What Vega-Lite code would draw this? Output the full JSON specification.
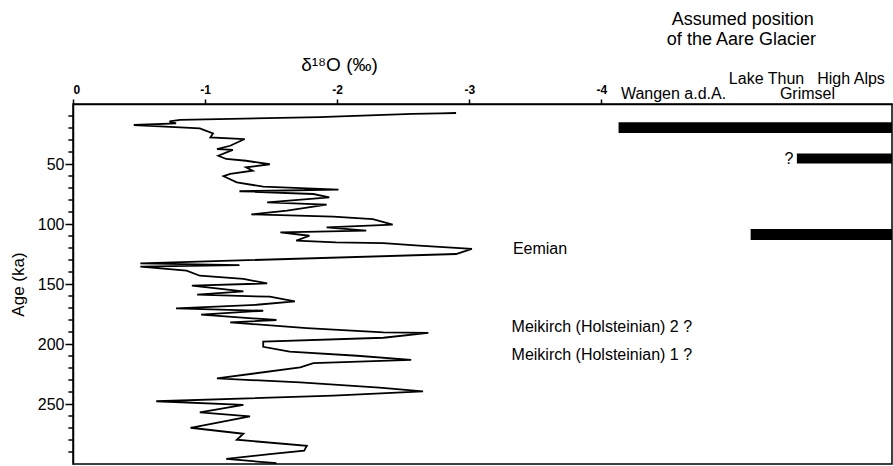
{
  "$schema": "https://vega.github.io/schema/vega-lite/v6.json",
  "autosize": "none",
  "width": 819,
  "height": 360,
  "padding": {"left": 73, "top": 104, "right": 1, "bottom": 2},
  "background": "white",
  "config": {
    "font": "Liberation Sans",
    "view": {"stroke": "black", "strokeWidth": 1.5},
    "axis": {"domainColor": "black", "tickColor": "black", "labelColor": "black", "titleColor": "black", "grid": false, "domainWidth": 1.5, "tickWidth": 1.5}
  },
  "datasets": {
    "curve": [
      {"v": -2.90, "age": 7.5}, {"v": -2.78, "age": 7.8}, {"v": -2.57, "age": 8.2}, {"v": -1.97, "age": 10.6}, {"v": -1.87, "age": 10.9},
      {"v": -0.81, "age": 13.3}, {"v": -0.73, "age": 14.5}, {"v": -0.78, "age": 16.2}, {"v": -0.46, "age": 17.5}, {"v": -0.66, "age": 18.7},
      {"v": -0.96, "age": 20.3}, {"v": -1.06, "age": 24.5}, {"v": -1.04, "age": 27.8}, {"v": -1.30, "age": 29.2}, {"v": -1.19, "age": 34.8},
      {"v": -1.09, "age": 37.5}, {"v": -1.21, "age": 38.3}, {"v": -1.10, "age": 43.1}, {"v": -1.16, "age": 45.8}, {"v": -1.31, "age": 47.3},
      {"v": -1.49, "age": 50.2}, {"v": -1.31, "age": 52.8}, {"v": -1.36, "age": 55.6}, {"v": -1.19, "age": 58.3}, {"v": -1.14, "age": 60.2},
      {"v": -1.24, "age": 65.3}, {"v": -1.44, "age": 68.9}, {"v": -2.01, "age": 71.4}, {"v": -1.26, "age": 72.7}, {"v": -1.82, "age": 75.0},
      {"v": -1.94, "age": 77.8}, {"v": -1.47, "age": 82.0}, {"v": -1.92, "age": 83.9}, {"v": -1.62, "age": 88.9}, {"v": -1.35, "age": 92.0},
      {"v": -1.97, "age": 93.9}, {"v": -2.27, "age": 96.0}, {"v": -2.42, "age": 100.6}, {"v": -1.92, "age": 102.8}, {"v": -2.22, "age": 105.6},
      {"v": -1.57, "age": 107.0}, {"v": -1.79, "age": 109.8}, {"v": -1.69, "age": 113.9}, {"v": -1.99, "age": 115.3}, {"v": -2.35, "age": 116.0},
      {"v": -2.62, "age": 118.1}, {"v": -3.02, "age": 120.8}, {"v": -2.90, "age": 125.0}, {"v": -0.51, "age": 132.8}, {"v": -1.26, "age": 134.2},
      {"v": -0.51, "age": 135.6}, {"v": -0.86, "age": 138.9}, {"v": -0.96, "age": 143.1}, {"v": -1.29, "age": 145.8}, {"v": -1.47, "age": 149.5},
      {"v": -0.90, "age": 151.4}, {"v": -1.29, "age": 156.2}, {"v": -0.94, "age": 158.9}, {"v": -1.49, "age": 160.6}, {"v": -1.68, "age": 164.5},
      {"v": -1.39, "age": 167.3}, {"v": -0.78, "age": 170.3}, {"v": -1.44, "age": 172.3}, {"v": -0.97, "age": 175.6}, {"v": -1.54, "age": 180.0},
      {"v": -1.19, "age": 182.0}, {"v": -1.77, "age": 186.8}, {"v": -2.35, "age": 190.3}, {"v": -2.69, "age": 190.8}, {"v": -2.35, "age": 194.8},
      {"v": -1.44, "age": 198.1}, {"v": -1.44, "age": 202.3}, {"v": -1.64, "age": 206.4}, {"v": -2.15, "age": 209.8}, {"v": -2.56, "age": 213.3},
      {"v": -1.82, "age": 216.0}, {"v": -1.72, "age": 219.5}, {"v": -1.09, "age": 228.7}, {"v": -1.72, "age": 232.0}, {"v": -2.32, "age": 236.4},
      {"v": -2.65, "age": 239.5}, {"v": -1.97, "age": 243.1}, {"v": -0.63, "age": 247.7}, {"v": -1.29, "age": 250.8}, {"v": -0.96, "age": 257.0},
      {"v": -1.34, "age": 260.3}, {"v": -0.89, "age": 269.8}, {"v": -1.29, "age": 274.8}, {"v": -1.24, "age": 279.8}, {"v": -1.77, "age": 284.8},
      {"v": -1.75, "age": 288.9}, {"v": -1.49, "age": 291.7}, {"v": -1.16, "age": 295.8}, {"v": -1.54, "age": 299.3}
    ],
    "minor": [
      {"age": 10}, {"age": 20}, {"age": 30}, {"age": 40}, {"age": 60}, {"age": 70}, {"age": 80}, {"age": 90},
      {"age": 110}, {"age": 120}, {"age": 130}, {"age": 140}, {"age": 160}, {"age": 170}, {"age": 180}, {"age": 190},
      {"age": 210}, {"age": 220}, {"age": 230}, {"age": 240}, {"age": 260}, {"age": 270}, {"age": 280}, {"age": 290}
    ],
    "bars": [
      {"start": -4.13, "end": -6.2, "a1": 15.3, "a2": 24.2},
      {"start": -5.48, "end": -6.2, "a1": 41.2, "a2": 49.5},
      {"start": -5.13, "end": -6.2, "a1": 104.2, "a2": 113.3}
    ],
    "notes": [
      {"label": "Eemian", "v": -3.33, "age": 120.6},
      {"label": "Meikirch (Holsteinian) 2 ?", "v": -3.32, "age": 185.6},
      {"label": "Meikirch (Holsteinian) 1 ?", "v": -3.32, "age": 209}
    ],
    "places": [
      {"label": "Wangen a.d.A.", "v": -4.546, "age": -8.6},
      {"label": "Grimsel", "v": -5.56, "age": -8.6},
      {"label": "Lake Thun", "v": -5.25, "age": -21},
      {"label": "High Alps", "v": -5.89, "age": -21},
      {"label": "?", "v": -5.42, "age": 46}
    ],
    "heading": [
      {"label": "Assumed position", "v": -5.07, "age": -70},
      {"label": "of the Aare Glacier", "v": -5.06, "age": -53}
    ]
  },
  "layer": [
    {
      "data": {"name": "curve"},
      "mark": {"type": "line", "color": "black", "strokeWidth": 1.8},
      "encoding": {
        "x": {
          "field": "v", "type": "quantitative",
          "scale": {"domain": [0, -6.2], "nice": false, "zero": false},
          "axis": {
            "orient": "top", "values": [0, -1, -2, -3, -4],
            "labelExpr": "datum.value == 0 ? '0' : '-' + abs(datum.value)",
            "labelFontWeight": "bold", "labelFontSize": 12, "tickSize": 5, "labelPadding": 3,
            "title": "δ¹⁸O (‰)", "titleFontSize": 19, "titleFontWeight": "normal",
            "titleX": 266, "titleY": -40, "titleAlign": "center", "titleBaseline": "middle", "titleAngle": 0
          }
        },
        "y": {
          "field": "age", "type": "quantitative",
          "scale": {"domain": [0, 300], "reverse": true, "nice": false, "zero": false},
          "axis": {
            "orient": "left",
            "values": [50, 100, 150, 200, 250],
            "labelOverlap": false,
            "tickSize": 8,
            "labelFontSize": 16, "labelPadding": 1,
            "title": "Age (ka)", "titleFontSize": 17, "titleFontWeight": "normal", "titlePadding": 10
          }
        },
        "order": {"field": "age", "type": "quantitative"}
      }
    },
    {
      "data": {"name": "minor"},
      "mark": {"type": "rule", "color": "black", "strokeWidth": 1.5},
      "encoding": {
        "y": {"field": "age", "type": "quantitative"},
        "x": {"datum": 0.035},
        "x2": {"datum": 0}
      }
    },
    {
      "data": {"name": "bars"},
      "mark": {"type": "rect", "color": "black"},
      "encoding": {
        "x": {"field": "start", "type": "quantitative"},
        "x2": {"field": "end"},
        "y": {"field": "a1", "type": "quantitative"},
        "y2": {"field": "a2"}
      }
    },
    {
      "data": {"name": "notes"},
      "mark": {"type": "text", "align": "left", "baseline": "middle", "fontSize": 16, "color": "black"},
      "encoding": {
        "x": {"field": "v", "type": "quantitative"},
        "y": {"field": "age", "type": "quantitative"},
        "text": {"field": "label"}
      }
    },
    {
      "data": {"name": "places"},
      "mark": {"type": "text", "align": "center", "baseline": "middle", "fontSize": 16, "color": "black"},
      "encoding": {
        "x": {"field": "v", "type": "quantitative"},
        "y": {"field": "age", "type": "quantitative"},
        "text": {"field": "label"}
      }
    },
    {
      "data": {"name": "heading"},
      "mark": {"type": "text", "align": "center", "baseline": "middle", "fontSize": 18, "color": "black"},
      "encoding": {
        "x": {"field": "v", "type": "quantitative"},
        "y": {"field": "age", "type": "quantitative"},
        "text": {"field": "label"}
      }
    }
  ]
}
